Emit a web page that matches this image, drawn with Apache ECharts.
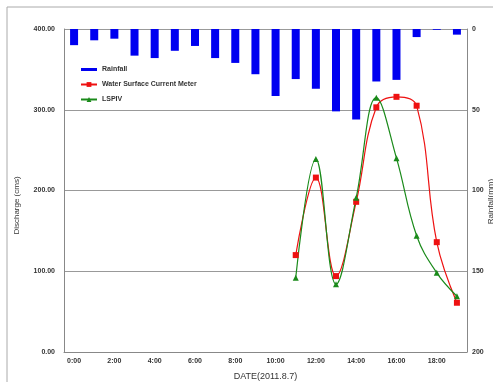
<!DOCTYPE html>
<html>
<head>
<meta charset="utf-8">
<script src="https://cdn.jsdelivr.net/npm/echarts@6/dist/echarts.min.js"></script>
<style>
  html, body { margin: 0; padding: 0; background: #fff; }
  #chart { width: 493px; height: 382px; }
</style>
</head>
<body>
<div id="chart"></div>
<script>
// 时间（每小时）
const hours = ['0:00', '1:00', '2:00', '3:00', '4:00', '5:00', '6:00', '7:00', '8:00', '9:00',
  '10:00', '11:00', '12:00', '13:00', '14:00', '15:00', '16:00', '17:00', '18:00', '19:00']
// 降雨量 (mm)
const rainfall = [10, 7, 6, 16.5, 18, 13.5, 10.5, 18, 21, 28, 41.5, 31, 37, 51, 56, 32.5, 31.5, 5, 0.5, 3.5]
// 流量 (cms)，11:00 开始
const currentMeter = [null, null, null, null, null, null, null, null, null, null, null,
  120, 216, 94, 186, 303, 316, 305, 136, 61]
const lspiv = [null, null, null, null, null, null, null, null, null, null, null,
  92, 239, 84, 191, 315, 240, 144, 98, 69]

const myChart = echarts.init(document.getElementById('chart'))
const labelStyle = { color: '#333', fontSize: 7, fontWeight: 'bold', fontFamily: 'Liberation Sans' }
const option = {
  animation: false,
  backgroundColor: '#fff',
  // 外框（只看得到上边和左边）
  graphic: [
    {
      type: 'polyline',
      shape: { points: [[7, 390], [7, 7], [493, 7]] },
      style: { fill: 'none', stroke: '#aaa', lineWidth: 1 }
    }
  ],
  grid: { left: 64, right: 26, top: 29, bottom: 30, outerBoundsMode: 'none' },
  legend: {
    orient: 'vertical',
    left: 75,
    top: 61,
    itemWidth: 16,
    itemHeight: 6,
    itemGap: 8,
    textStyle: { color: '#333', fontSize: 7, fontWeight: 'bold', fontFamily: 'Liberation Sans' },
    data: [
      { name: 'Rainfall', icon: 'path://M0,0H16V3H0Z' },
      { name: 'Water Surface Current Meter' },
      { name: 'LSPIV' }
    ]
  },
  xAxis: {
    type: 'category',
    data: hours,
    name: 'DATE(2011.8.7)',
    nameLocation: 'middle',
    nameGap: 20,
    nameTextStyle: { color: '#333', fontSize: 9, fontFamily: 'Liberation Sans' },
    axisLine: { lineStyle: { color: '#888' } },
    axisTick: { inside: true, length: 3, lineStyle: { color: '#999' } },
    axisLabel: Object.assign({ interval: 1, margin: 6 }, labelStyle)
  },
  yAxis: [
    {
      type: 'value',
      min: 0,
      max: 400,
      interval: 100,
      name: 'Discharge (cms)',
      nameLocation: 'middle',
      nameGap: 43,
      nameTextStyle: { color: '#333', fontSize: 8, fontFamily: 'Liberation Sans', padding: [0, 0, 0, -30] },
      axisLine: { show: true, lineStyle: { color: '#888' } },
      axisTick: { show: false },
      axisLabel: Object.assign({ margin: 9, formatter: (v) => v.toFixed(2) }, labelStyle),
      splitLine: { lineStyle: { color: '#999' } }
    },
    {
      type: 'value',
      min: 0,
      max: 200,
      interval: 50,
      inverse: true,
      name: 'Rainfall(mm)',
      nameLocation: 'middle',
      nameRotate: 90,
      nameGap: 20,
      nameMoveOverlap: false,
      nameTextStyle: { color: '#333', fontSize: 8, fontFamily: 'Liberation Sans', padding: [0, 0, 0, -22] },
      axisLine: { show: true, lineStyle: { color: '#888' } },
      axisTick: { show: false },
      axisLabel: Object.assign({ margin: 5 }, labelStyle),
      splitLine: { show: false }
    }
  ],
  series: [
    {
      name: 'Rainfall',
      type: 'bar',
      yAxisIndex: 1,
      barWidth: 8,
      data: rainfall,
      itemStyle: { color: '#0000f0' }
    },
    {
      name: 'Water Surface Current Meter',
      type: 'line',
      data: currentMeter,
      smooth: 0.4,
      symbol: 'rect',
      symbolSize: 6,
      lineStyle: { color: '#ee1111', width: 1.2 },
      itemStyle: { color: '#ee1111' }
    },
    {
      name: 'LSPIV',
      type: 'line',
      data: lspiv,
      smooth: 0.4,
      symbol: 'triangle',
      symbolSize: 6,
      lineStyle: { color: '#1a8a1a', width: 1.2 },
      itemStyle: { color: '#1a8a1a' }
    }
  ]
}
myChart.setOption(option)
</script>
</body>
</html>
